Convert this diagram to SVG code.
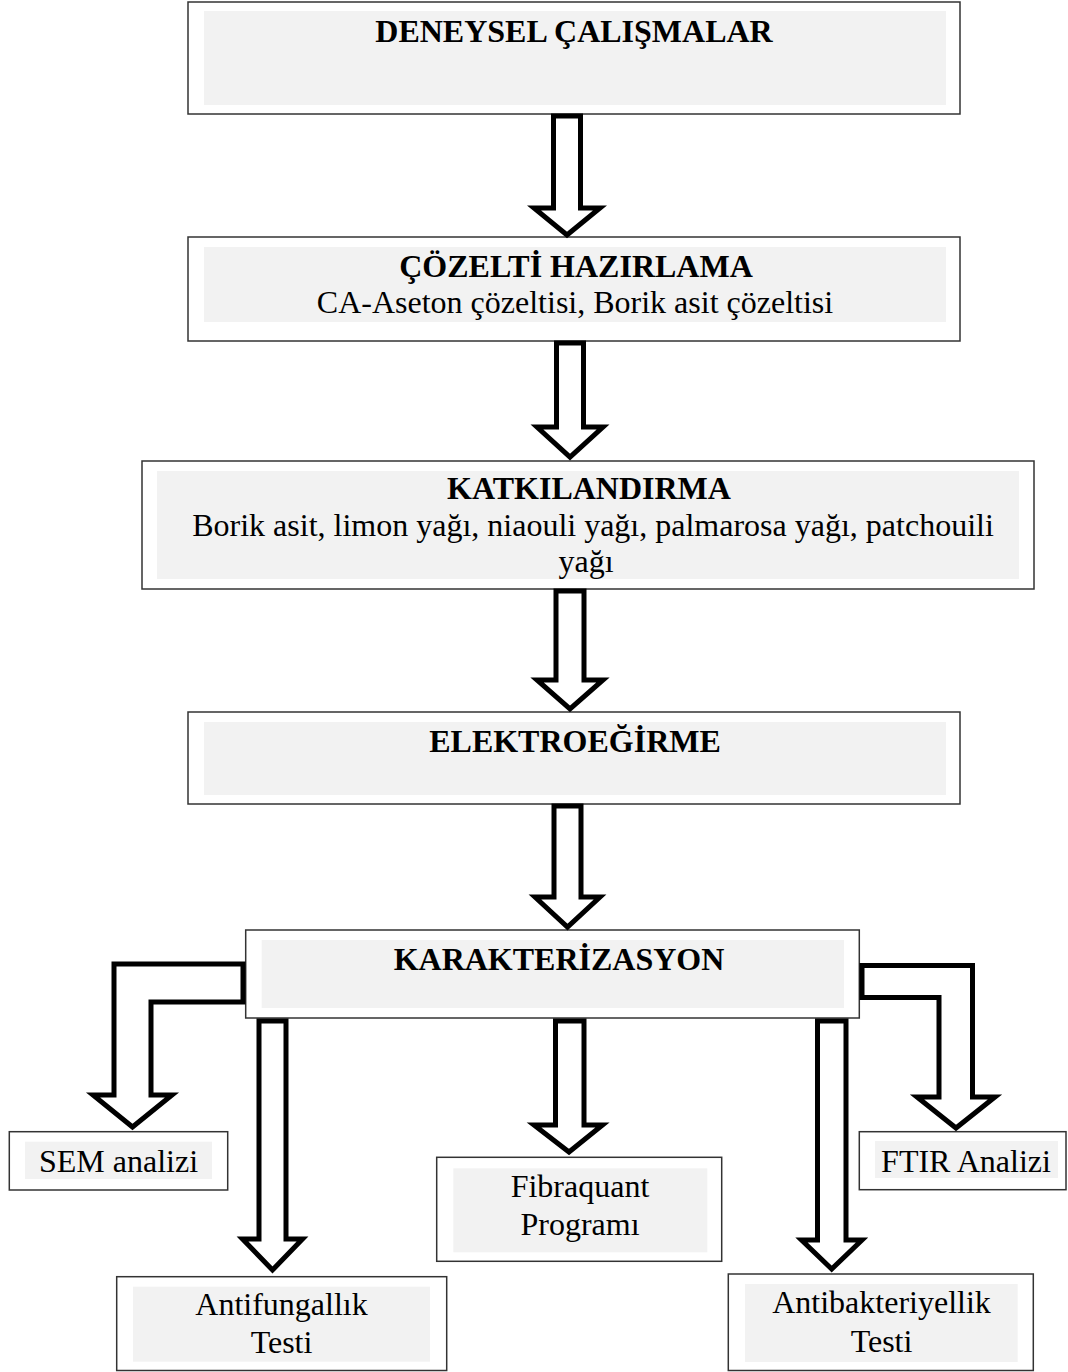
<svg xmlns="http://www.w3.org/2000/svg" width="1068" height="1372" viewBox="0 0 1068 1372">
<style>
.box{fill:#fff;stroke:#333;stroke-width:1.5}
.in{fill:#f2f2f2}
.t{font-family:"Liberation Serif","Times New Roman",serif;font-size:32px;fill:#000;text-anchor:middle}
.b{font-weight:bold}
.arr{fill:#fff;stroke:#000;stroke-width:5;stroke-linejoin:miter}
</style>
<rect width="1068" height="1372" fill="#fff"/>
<g id="n1">
<rect class="box" x="188" y="2" width="772" height="112"/>
<rect class="in" x="204" y="11" width="742" height="94"/>
<text class="t b" x="574" y="42">DENEYSEL ÇALIŞMALAR</text>
</g>
<g id="n2">
<rect class="box" x="188" y="237" width="772" height="104"/>
<rect class="in" x="204" y="247" width="742" height="75"/>
<text class="t b" x="576" y="277">ÇÖZELTİ HAZIRLAMA</text>
<text class="t" x="575" y="313">CA-Aseton çözeltisi, Borik asit çözeltisi</text>
</g>
<g id="n3">
<rect class="box" x="142" y="461" width="892" height="128"/>
<rect class="in" x="157" y="471" width="862" height="108"/>
<text class="t b" x="589" y="499">KATKILANDIRMA</text>
<text class="t" x="593" y="536">Borik asit, limon yağı, niaouli yağı, palmarosa yağı, patchouili</text>
<text class="t" x="586" y="572">yağı</text>
</g>
<g id="n4">
<rect class="box" x="188" y="712" width="772" height="92"/>
<rect class="in" x="204" y="722" width="742" height="73"/>
<text class="t b" x="575" y="752">ELEKTROEĞİRME</text>
</g>
<g id="n5">
<rect class="box" x="245.7" y="930" width="613.6" height="88"/>
<rect class="in" x="261.7" y="940" width="582.3" height="68"/>
<text class="t b" x="559" y="970">KARAKTERİZASYON</text>
</g>
<g id="n6">
<rect class="box" x="9.3" y="1131.7" width="218.4" height="58.3"/>
<rect class="in" x="25" y="1141.7" width="187" height="37.3"/>
<text class="t" x="118.5" y="1171.7">SEM analizi</text>
</g>
<g id="n7">
<rect class="box" x="859.3" y="1131.7" width="206.7" height="58"/>
<rect class="in" x="875" y="1141" width="183" height="37"/>
<text class="t" x="966" y="1171.7">FTIR Analizi</text>
</g>
<g id="n8">
<rect class="box" x="436.7" y="1157.3" width="285" height="104"/>
<rect class="in" x="453.3" y="1168.3" width="254" height="84"/>
<text class="t" x="580" y="1197">Fibraquant</text>
<text class="t" x="580" y="1235">Programı</text>
</g>
<g id="n9">
<rect class="box" x="116.7" y="1276.7" width="330" height="93.8"/>
<rect class="in" x="133" y="1286.7" width="297" height="75"/>
<text class="t" x="281.5" y="1315">Antifungallık</text>
<text class="t" x="281.5" y="1353">Testi</text>
</g>
<g id="n10">
<rect class="box" x="728.3" y="1274" width="305" height="96.5"/>
<rect class="in" x="745" y="1284" width="272.7" height="78"/>
<text class="t" x="881.5" y="1313.3">Antibakteriyellik</text>
<text class="t" x="881.5" y="1351.7">Testi</text>
</g>
<g id="connectors">
<path class="arr" d="M553.5 116 H580.5 V208 H600 L567 235 L534 208 H553.5 Z"/>
<path class="arr" d="M556.5 343 H583.5 V427 H603 L570 457 L537 427 H556.5 Z"/>
<path class="arr" d="M556 591 H584 V680 H603 L570 709 L537 680 H556 Z"/>
<path class="arr" d="M554 806 H581 V897 H600 L567.5 927 L535 897 H554 Z"/>
<path class="arr" d="M243 964 H114 V1095 H93 L132.5 1127 L172 1095 H151 V1002 H243 Z"/>
<path class="arr" d="M862 965.5 H972.5 V1097 H995 L956 1128 L917 1097 H939 V997.5 H862 Z"/>
<path class="arr" d="M259 1021 H286 V1239 H302.5 L272.5 1270 L242.5 1239 H259 Z"/>
<path class="arr" d="M555.5 1021 H584 V1125 H602.5 L569 1152 L534 1125 H555.5 Z"/>
<path class="arr" d="M817.5 1021 H846 V1240 H862 L831.7 1269 L801.5 1240 H817.5 Z"/>
</g>
</svg>
